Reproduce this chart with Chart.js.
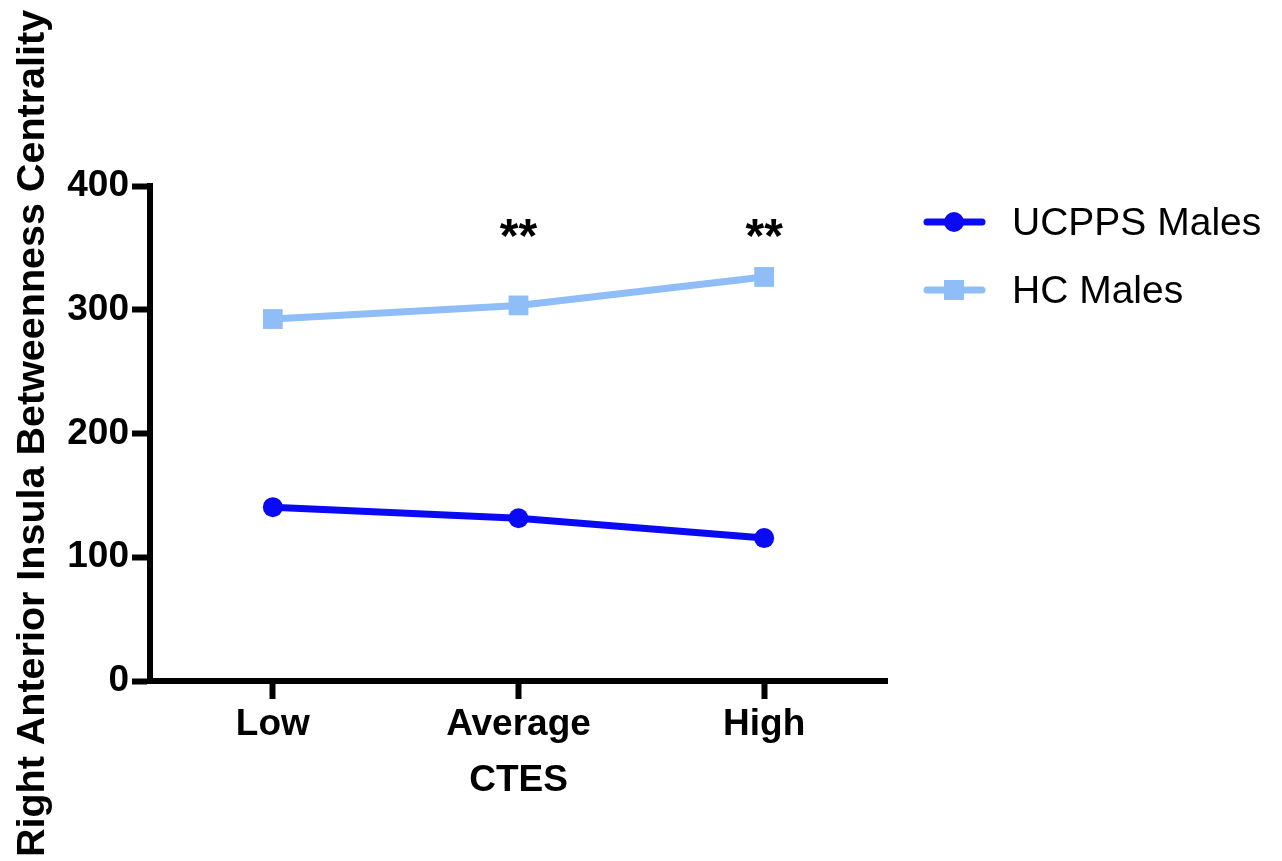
<!DOCTYPE html>
<html>
<head>
<meta charset="utf-8">
<style>
  html, body { margin: 0; padding: 0; background: #fff; }
  #wrap { width: 1282px; height: 861px; position: relative; }
</style>
<script src="https://cdn.jsdelivr.net/npm/chart.js@4.4.1/dist/chart.umd.min.js"></script>
</head>
<body>
<div id="wrap"><canvas id="insulaChart"></canvas></div>
<script>
const categories = ["Low", "Average", "High"];
const ucppsMales = [140.5, 131.5, 115.5];
const hcMales = [292.5, 303.5, 326.5];
const sigLabels = ["", "**", "**"];
const yTicks = [0, 100, 200, 300, 400];

const ucppsColor = "#0A0AF5";
const hcColor = "#8FBDF7";
const boldFont = "'Liberation Sans', Arial, sans-serif";

// draws the ** marks and the line+marker legend on the right
const extrasPlugin = {
  id: "extras",
  afterDraw(chart) {
    const ctx = chart.ctx;
    const x = chart.scales.x;
    const y = chart.scales.y;

    ctx.save();
    ctx.fillStyle = "#000";
    ctx.font = "bold 48px " + boldFont;
    ctx.textAlign = "center";
    ctx.textBaseline = "alphabetic";
    sigLabels.forEach((txt, i) => {
      if (!txt) return;
      ctx.fillText(txt, x.getPixelForValue(i), y.getPixelForValue(347));
    });

    const rows = [222, 290];
    chart.data.datasets.forEach((ds, i) => {
      const cy = rows[i];
      ctx.strokeStyle = ds.borderColor;
      ctx.lineWidth = 7;
      ctx.lineCap = "round";
      ctx.beginPath();
      ctx.moveTo(927, cy);
      ctx.lineTo(982, cy);
      ctx.stroke();
      ctx.fillStyle = ds.borderColor;
      if (ds.pointStyle === "rect") {
        ctx.fillRect(954 - 10, cy - 10, 20, 20);
      } else {
        ctx.beginPath();
        ctx.arc(954, cy, 10, 0, Math.PI * 2);
        ctx.fill();
      }
      ctx.fillStyle = "#000";
      ctx.font = "39px " + boldFont;
      ctx.textAlign = "left";
      ctx.textBaseline = "middle";
      ctx.fillText(ds.label, 1012, cy + 2);
    });
    ctx.restore();
  }
};

new Chart(document.getElementById("insulaChart"), {
  type: "line",
  data: {
    labels: categories,
    datasets: [
      {
        label: "UCPPS Males",
        data: ucppsMales,
        borderColor: ucppsColor,
        backgroundColor: ucppsColor,
        borderWidth: 7,
        pointStyle: "circle",
        pointRadius: 10,
        pointBorderWidth: 0,
        tension: 0
      },
      {
        label: "HC Males",
        data: hcMales,
        borderColor: hcColor,
        backgroundColor: hcColor,
        borderWidth: 7,
        pointStyle: "rect",
        pointRadius: 14,
        pointBorderWidth: 0,
        tension: 0
      }
    ]
  },
  options: {
    responsive: true,
    maintainAspectRatio: false,
    animation: false,
    layout: {
      padding: { top: 186, right: 395, bottom: 0, left: 0 }
    },
    plugins: {
      legend: { display: false },
      tooltip: { enabled: false }
    },
    scales: {
      x: {
        offset: true,
        afterFit: scale => { scale.height = 180; },
        border: { display: true, color: "#000", width: 6 },
        grid: {
          display: true,
          drawOnChartArea: false,
          drawTicks: true,
          tickLength: 18,
          tickWidth: 6,
          tickColor: "#000",
          offset: false
        },
        ticks: {
          color: "#000",
          padding: 4,
          font: { family: boldFont, size: 37, weight: "bold" }
        },
        title: {
          display: true,
          text: "CTES",
          color: "#000",
          padding: { top: 0, bottom: 58 },
          font: { family: boldFont, size: 37, weight: "bold" }
        }
      },
      y: {
        min: 0,
        max: 400,
        afterFit: scale => { scale.width = 150; },
        afterBuildTicks: scale => {
          scale.ticks = yTicks.map(v => ({ value: v }));
        },
        border: { display: true, color: "#000", width: 6 },
        grid: {
          display: true,
          drawOnChartArea: false,
          drawTicks: true,
          tickLength: 18,
          tickWidth: 6,
          tickColor: "#000"
        },
        ticks: {
          color: "#000",
          padding: 3,
          font: { family: boldFont, size: 37, weight: "bold" }
        },
        title: {
          display: true,
          text: "Right Anterior Insula Betweenness Centrality",
          color: "#000",
          padding: { top: 9 },
          font: { family: "'Liberation Sans Narrow', 'Liberation Sans', Arial, sans-serif", size: 39.5, weight: "bold" }
        }
      }
    }
  },
  plugins: [extrasPlugin]
});
</script>
</body>
</html>
